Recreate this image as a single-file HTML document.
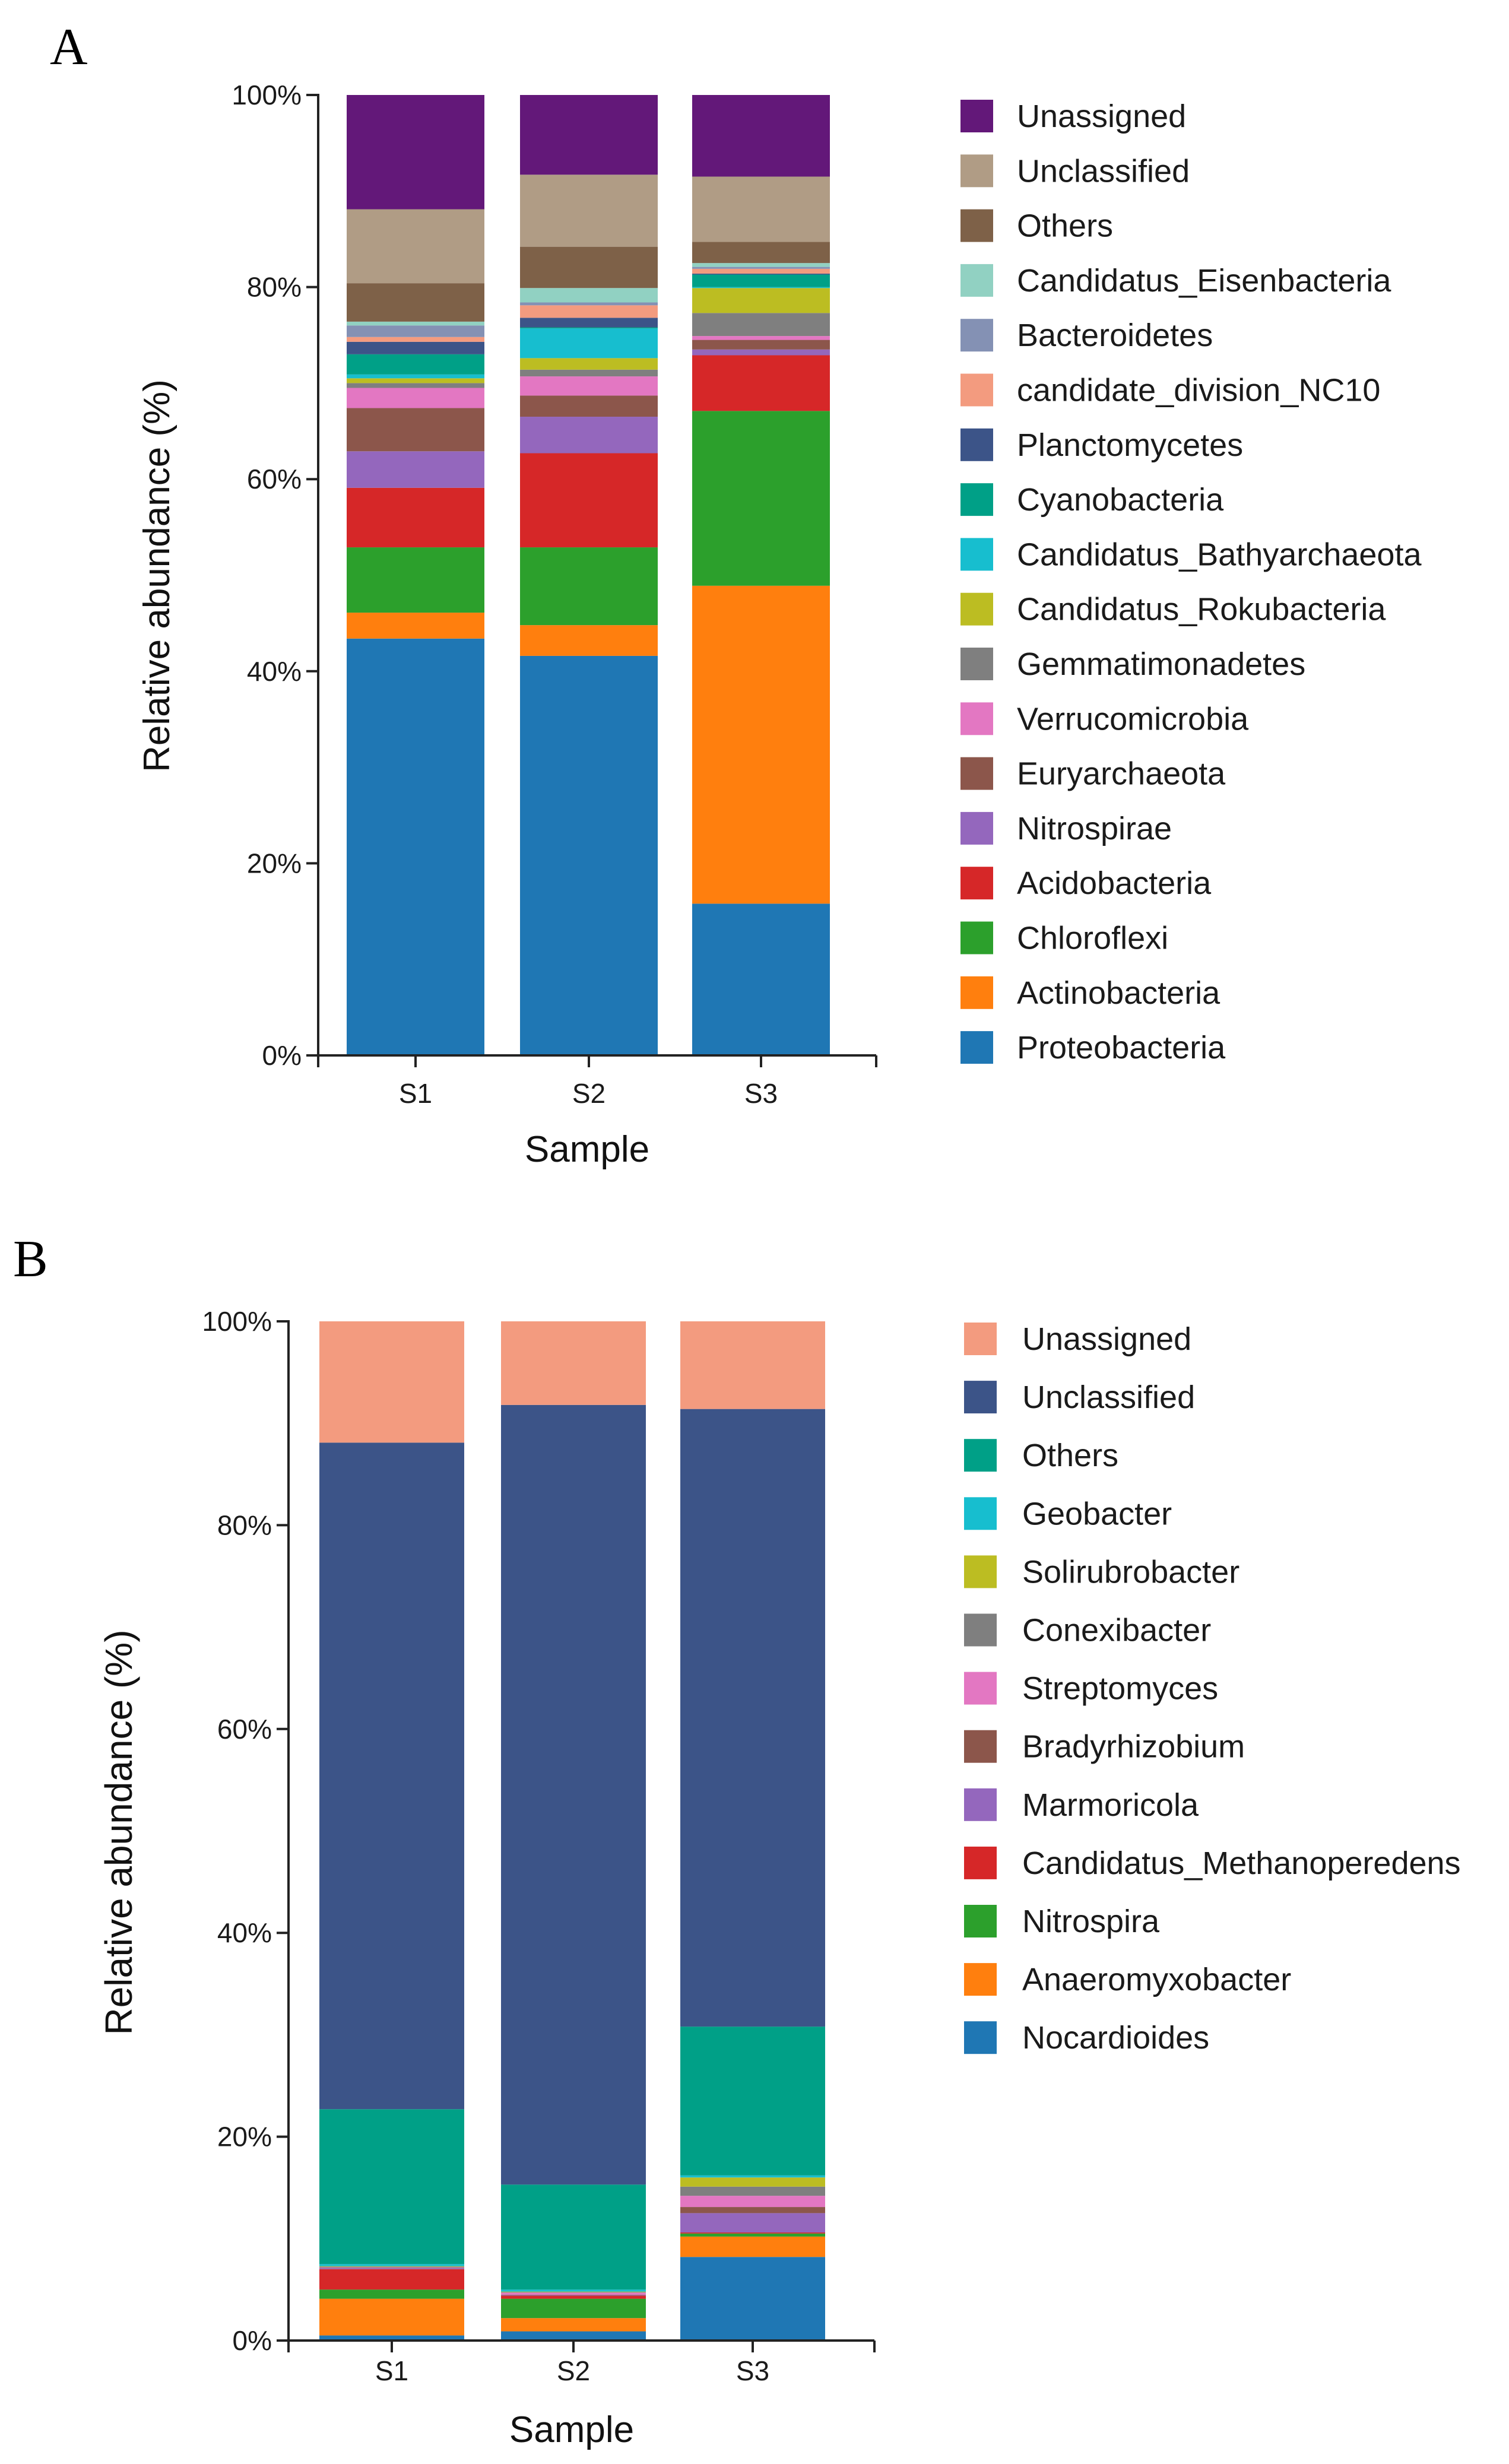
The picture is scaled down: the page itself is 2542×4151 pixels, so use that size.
<!DOCTYPE html>
<html><head><meta charset="utf-8"><style>
html,body{margin:0;padding:0;background:#fff;}
svg{display:block;}
text{font-family:"Liberation Sans",Arial,sans-serif;}
</style></head>
<body>
<svg id="fig" width="2542" height="4151" viewBox="0 0 2542 4151" xmlns="http://www.w3.org/2000/svg">
<rect x="0" y="0" width="2542" height="4151" fill="#ffffff"/>
<text x="84" y="108" font-size="88" fill="#000" style="font-family:'Liberation Serif',serif">A</text>
<text x="22" y="2150" font-size="88" fill="#000" style="font-family:'Liberation Serif',serif">B</text>
<g id="chartA"></g>
<g id="chartB"></g>
</svg>
<script>
// ---------- Panel A data ----------
const samplesA = ["S1","S2","S3"];
const taxaA = ["Proteobacteria","Actinobacteria","Chloroflexi","Acidobacteria","Nitrospirae","Euryarchaeota","Verrucomicrobia","Gemmatimonadetes","Candidatus_Rokubacteria","Candidatus_Bathyarchaeota","Cyanobacteria","Planctomycetes","candidate_division_NC10","Bacteroidetes","Candidatus_Eisenbacteria","Others","Unclassified","Unassigned"];
const colorsA = ["#1f77b4","#ff7f0e","#2ca02c","#d62728","#9467bd","#8c564b","#e377c2","#7f7f7f","#bcbd22","#17becf","#00a087","#3c5488","#f39b7f","#8491b4","#91d1c2","#7e6148","#b09c85","#631879"];
const valuesA_S1 = [43.4,2.7,6.8,6.2,3.8,4.5,2.1,0.5,0.5,0.4,2.1,1.3,0.5,1.2,0.4,4.0,7.7,11.9];
const valuesA_S2 = [41.6,3.2,8.1,9.8,3.8,2.2,2.0,0.7,1.2,3.1,0.1,1.0,1.3,0.3,1.5,4.3,7.5,8.3];
const valuesA_S3 = [15.8,33.1,18.2,5.8,0.6,1.0,0.4,2.4,2.6,0.1,1.3,0.1,0.5,0.2,0.4,2.2,6.8,8.5];
const ticksA = [0,20,40,60,80,100];
const tickLabelsA = ["0%","20%","40%","60%","80%","100%"];

// ---------- Panel B data ----------
const samplesB = ["S1","S2","S3"];
const taxaB = ["Nocardioides","Anaeromyxobacter","Nitrospira","Candidatus_Methanoperedens","Marmoricola","Bradyrhizobium","Streptomyces","Conexibacter","Solirubrobacter","Geobacter","Others","Unclassified","Unassigned"];
const colorsB = ["#1f77b4","#ff7f0e","#2ca02c","#d62728","#9467bd","#8c564b","#e377c2","#7f7f7f","#bcbd22","#17becf","#00a087","#3c5488","#f39b7f"];
const valuesB_S1 = [0.5,3.6,0.9,2.0,0.1,0.05,0.05,0.05,0.05,0.2,15.2,65.4,11.9];
const valuesB_S2 = [0.9,1.3,1.9,0.3,0.05,0.05,0.2,0.05,0.05,0.2,10.3,76.5,8.2];
const valuesB_S3 = [8.2,2.0,0.3,0.1,1.9,0.6,1.1,0.9,0.9,0.2,14.6,60.6,8.6];
const ticksB = [0,20,40,60,80,100];
const tickLabelsB = ["0%","20%","40%","60%","80%","100%"];

const NS = "http://www.w3.org/2000/svg";
function mk(tag, attrs, parent){
  const e = document.createElementNS(NS, tag);
  for (const k in attrs) e.setAttribute(k, attrs[k]);
  parent.appendChild(e);
  return e;
}

function drawChart(g, cfg){
  const yScale = v => cfg.y0 - (v/100)*(cfg.y0 - cfg.y100);
  cfg.series.forEach((vals, si) => {
    const bx = cfg.barX[si];
    let cum = 0;
    vals.forEach((v, ti) => {
      const yTop = yScale(cum + v), yBot = yScale(cum);
      const r = mk("rect", {x:bx, y:yTop, width:cfg.barW, height:Math.max(0,yBot-yTop), fill:cfg.colors[ti]}, g);
      
      
      cum += v;
    });
  });
  const ya = mk("line", {x1:cfg.axX, y1:yScale(100)-2, x2:cfg.axX, y2:cfg.y0, stroke:"#222", "stroke-width":4}, g);
  
  
  cfg.ticks.forEach((t, i) => {
    const y = yScale(t);
    const tl = mk("line", {x1:cfg.axX-20, y1:y, x2:cfg.axX, y2:y, stroke:"#222", "stroke-width":4}, g);
    
    
    const tx = mk("text", {x:cfg.axX-28, y:y+16, "text-anchor":"end", "font-size":46, fill:"#1a1a1a"}, g);
    tx.textContent = cfg.tickLabels[i];
    
    
  });
  const xa = mk("line", {x1:cfg.axX, y1:cfg.y0, x2:cfg.axEnd, y2:cfg.y0, stroke:"#222", "stroke-width":4}, g);
  
  
  [cfg.axX, cfg.axEnd].forEach(x => {
    const l = mk("line", {x1:x, y1:cfg.y0, x2:x, y2:cfg.y0+20, stroke:"#222", "stroke-width":4}, g);
    
    
  });
  cfg.samples.forEach((s, i) => {
    const cx = cfg.barX[i] + cfg.barW/2;
    const l = mk("line", {x1:cx, y1:cfg.y0, x2:cx, y2:cfg.y0+20, stroke:"#222", "stroke-width":4}, g);
    
    
    const t = mk("text", {x:cx, y:cfg.xLabY, "text-anchor":"middle", "font-size":46, fill:"#1a1a1a"}, g);
    t.textContent = s;
    
    
  });
  const xt = mk("text", {x:cfg.xTitleX, y:cfg.xTitleY, "text-anchor":"middle", "font-size":62, fill:"#111"}, g);
  xt.textContent = "Sample";
  
  
  const yt = mk("text", {x:0, y:0, "text-anchor":"middle", "font-size":cfg.yTitleSize, fill:"#111", transform:`translate(${cfg.yTitleX},${cfg.yTitleY}) rotate(-90)`}, g);
  yt.textContent = "Relative abundance (%)";
  
  
  const n = cfg.taxa.length;
  for (let k = 0; k < n; k++){
    const ti = n - 1 - k;
    const cy = cfg.legY0 + k*cfg.legStep;
    const sw = mk("rect", {x:cfg.legX, y:cy-27, width:55, height:55, fill:cfg.colors[ti]}, g);
    
    
    const lt = mk("text", {x:cfg.legTextX, y:cy+19, "font-size":54, fill:"#1a1a1a"}, g);
    lt.textContent = cfg.taxa[ti];
    
    
  }
}

drawChart(document.getElementById("chartA"), {
  samples:samplesA, taxa:taxaA, colors:colorsA,
  series:[valuesA_S1, valuesA_S2, valuesA_S3],
  ticks:ticksA, tickLabels:tickLabelsA,
  y0:1778, y100:160, axX:536, axEnd:1476,
  barX:[584, 876, 1166], barW:232,
  xLabY:1858, xTitleX:989, xTitleY:1957,
  yTitleX:285, yTitleY:970, yTitleSize:62,
  legX:1618, legTextX:1713, legY0:195, legStep:92.3
});
drawChart(document.getElementById("chartB"), {
  samples:samplesB, taxa:taxaB, colors:colorsB,
  series:[valuesB_S1, valuesB_S2, valuesB_S3],
  ticks:ticksB, tickLabels:tickLabelsB,
  y0:3943, y100:2226, axX:486, axEnd:1473,
  barX:[538, 844, 1146], barW:244,
  xLabY:4010, xTitleX:963, xTitleY:4114,
  yTitleX:222, yTitleY:3087, yTitleSize:64,
  legX:1624, legTextX:1722, legY0:2255, legStep:98.1
});
</script>
</body></html>
